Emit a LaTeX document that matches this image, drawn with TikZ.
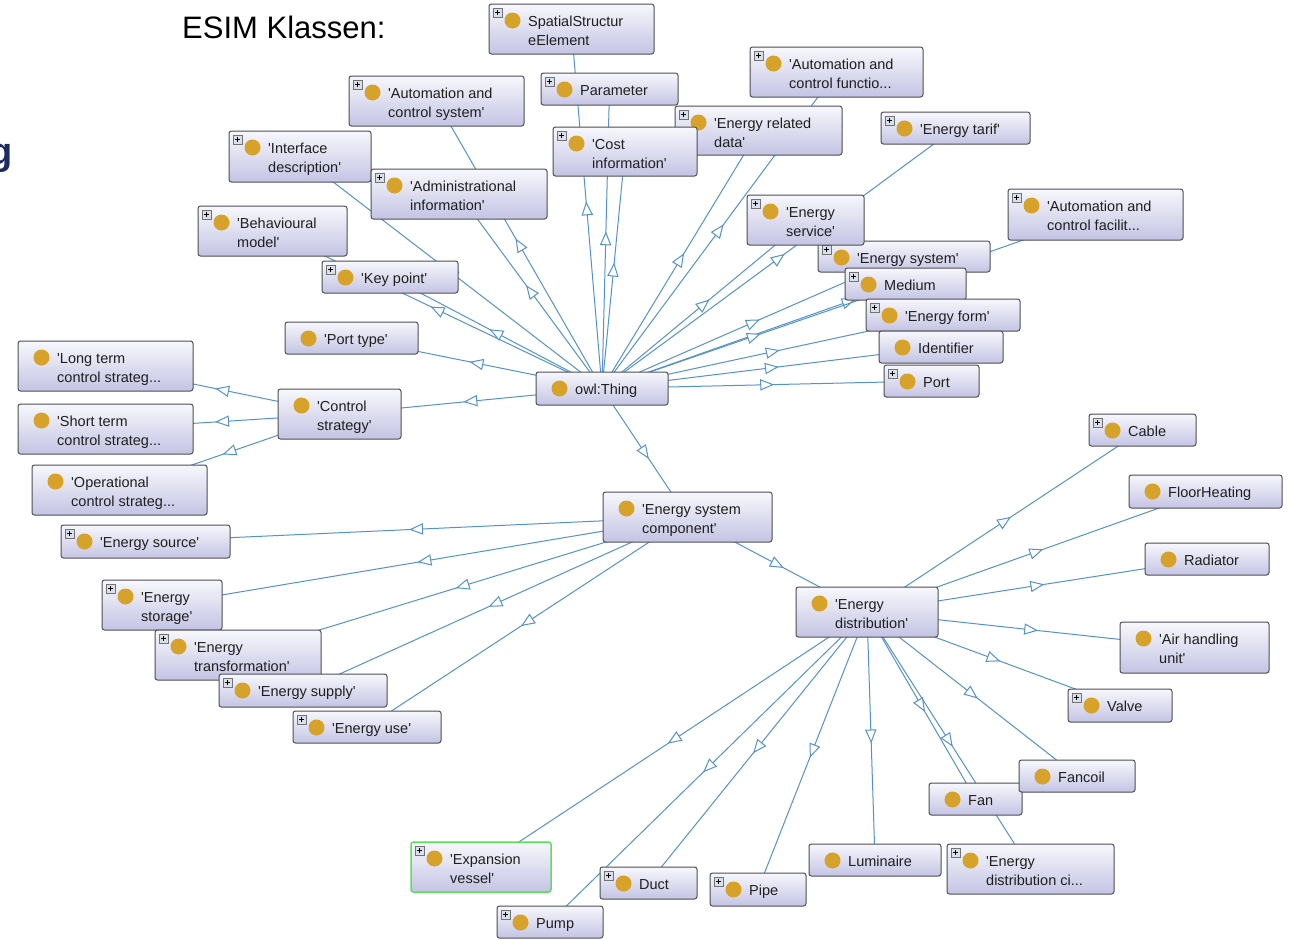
\documentclass[tikz,border=0pt]{standalone}
\usepackage{fontspec}
\setmainfont{Liberation Sans}[Ligatures=TeXOff]
\usetikzlibrary{decorations.markings,backgrounds}

\definecolor{edgecol}{RGB}{84,146,202}
\definecolor{boxline}{RGB}{78,78,84}
\definecolor{boxtop}{RGB}{247,247,252}
\definecolor{boxbot}{RGB}{196,196,228}
\definecolor{dotc}{RGB}{214,162,42}
\definecolor{navy}{RGB}{28,42,100}
\definecolor{selgreen}{RGB}{92,224,92}
\definecolor{plusfill}{RGB}{218,224,234}

\tikzset{
  cls/.style={draw=boxline, line width=1pt, rounded corners=2.5pt,
    top color=boxtop, bottom color=boxbot, anchor=north west,
    inner sep=0pt, outer sep=0pt},
  lbl/.style={anchor=base west, inner sep=0pt, text=black!88,
    font=\fontsize{14.5}{18}\selectfont},
  plusbox/.style={draw=black!55, fill=plusfill, line width=0.6pt},
  plussign/.style={draw=black, line width=0.9pt},
  isa/.style={draw=edgecol, line width=1pt,
    decoration={markings, mark=at position 0.5 with {
      \draw[draw=edgecol, fill=white, line width=1pt, line join=miter]
        (6pt,0pt) -- (-6pt,5pt) -- (-6pt,-5pt) -- cycle;}},
    postaction={decorate}}
}

% class box: [box options]{name}{x1}{y1}{x2}{y2}{line 1}{line 2}{expand icon 1/0}
\newcommand\ocls[9][]{%
  \node[cls,#1,minimum width={#5pt-#3pt},minimum height={#6pt-#4pt}] (#2) at (#3,#4) {};
  \fill[dotc] (#3+23.5,#4+16.5) circle (8pt);
  \node[lbl] (#2-a) at (#3+39,#4+22) {#7};
  \node[lbl] (#2-b) at (#3+39,#4+41) {#8};
  \ifnum#9=1
    \draw[plusbox] (#3+4,#4+4) rectangle (#3+13,#4+13);
    \draw[plussign] (#3+6,#4+8.5) -- (#3+11,#4+8.5) (#3+8.5,#4+6) -- (#3+8.5,#4+11);
  \fi}
\newcommand\isa[2]{\draw[isa] (#1.center) -- (#2.center);}

\begin{document}
\begin{tikzpicture}[x=1pt,y=-1pt]
\useasboundingbox (0,0) rectangle (1294,940);

\node[anchor=base west, inner sep=0pt, font=\fontsize{31}{36}\selectfont] (title) at (182,38) {ESIM Klassen:};
\node[anchor=base east, inner sep=0pt, text=navy, font=\bfseries\fontsize{38}{42}\selectfont] (gcut) at (13,164) {g};

% classes below owl:Thing
\ocls{sse}{489}{4}{654}{54}{SpatialStructur}{eElement}{1}
\ocls{acs}{349}{76}{524}{126}{'Automation and}{control system'}{1}
\ocls{param}{541}{73}{678}{105}{Parameter}{}{1}
\ocls{acfun}{750}{47}{923}{97}{'Automation and}{control functio...}{1}
\ocls{erd}{675}{106}{842}{155}{'Energy related}{data'}{1}
\ocls{cost}{553}{127}{697}{176}{'Cost}{information'}{1}
\ocls{iface}{229}{131}{371}{182}{'Interface}{description'}{1}
\ocls{admin}{371}{169}{547}{219}{'Administrational}{information'}{1}
\ocls{tarif}{881}{112}{1030}{144}{'Energy tarif'}{}{1}
\ocls{behav}{198}{206}{347}{256}{'Behavioural}{model'}{1}
\ocls{acfac}{1008}{189}{1183}{240}{'Automation and}{control facilit...}{1}
\ocls{esys}{818}{241}{990}{272}{'Energy system'}{}{1}
\ocls{eserv}{747}{195}{864}{245}{'Energy}{service'}{1}
\ocls{medium}{845}{268}{966}{300}{Medium}{}{1}
\ocls{eform}{866}{299}{1020}{331}{'Energy form'}{}{1}
\ocls{ident}{879}{331}{1003}{363}{Identifier}{}{0}
\ocls{port}{884}{365}{979}{397}{Port}{}{1}
\ocls{key}{322}{261}{458}{293}{'Key point'}{}{1}
\ocls{ptype}{285}{322}{418}{354}{'Port type'}{}{0}
\ocls{owl}{536}{372}{668}{405}{owl:Thing}{}{0}

% control strategies
\ocls{long}{18}{341}{193}{391}{'Long term}{control strateg...}{0}
\ocls{ctrl}{278}{389}{401}{439}{'Control}{strategy'}{0}
\ocls{short}{18}{404}{193}{454}{'Short term}{control strateg...}{0}
\ocls{oper}{32}{465}{207}{515}{'Operational}{control strateg...}{0}

% energy system components
\ocls{esc}{603}{492}{772}{542}{'Energy system}{component'}{0}
\ocls{esrc}{61}{525}{230}{558}{'Energy source'}{}{1}
\ocls{estor}{102}{580}{222}{630}{'Energy}{storage'}{1}
\ocls{etrans}{155}{630}{321}{680}{'Energy}{transformation'}{1}
\ocls{esup}{219}{674}{387}{707}{'Energy supply'}{}{1}
\ocls{euse}{293}{711}{441}{743}{'Energy use'}{}{1}

% energy distribution
\ocls{cable}{1089}{414}{1196}{446}{Cable}{}{1}
\ocls{floor}{1129}{475}{1282}{508}{FloorHeating}{}{0}
\ocls{rad}{1145}{543}{1269}{575}{Radiator}{}{0}
\ocls{edist}{796}{587}{938}{637}{'Energy}{distribution'}{0}
\ocls{ahu}{1120}{622}{1269}{673}{'Air handling}{unit'}{0}
\ocls{valve}{1068}{689}{1172}{722}{Valve}{}{1}
\ocls{fan}{929}{783}{1022}{815}{Fan}{}{0}
\ocls{fancoil}{1019}{760}{1135}{792}{Fancoil}{}{0}
\ocls[draw=selgreen,line width=1.5pt]{expv}{411}{842}{551}{892}{'Expansion}{vessel'}{1}
\ocls{duct}{600}{867}{697}{899}{Duct}{}{1}
\ocls{pipe}{710}{873}{806}{906}{Pipe}{}{1}
\ocls{lum}{809}{844}{941}{876}{Luminaire}{}{0}
\ocls{edc}{947}{844}{1114}{894}{'Energy}{distribution ci...}{1}
\ocls{pump}{497}{906}{603}{938}{Pump}{}{1}

% white page, then subclass connectors (parent to child) under the boxes
\begin{scope}[on background layer]
  \fill[white] (0,0) rectangle (1294,940);
  \foreach \c in {sse,acs,param,acfun,erd,cost,iface,admin,tarif,behav,
                  eserv,acfac,esys,key,medium,eform,ident,port,ptype,ctrl,esc}
    {\isa{owl}{\c}}
  \foreach \c in {long,short,oper} {\isa{ctrl}{\c}}
  \foreach \c in {esrc,estor,etrans,esup,euse,edist} {\isa{esc}{\c}}
  \foreach \c in {cable,floor,rad,ahu,valve,fancoil,fan,edc,lum,pipe,duct,pump,expv}
    {\isa{edist}{\c}}
\end{scope}
\end{tikzpicture}
\end{document}
